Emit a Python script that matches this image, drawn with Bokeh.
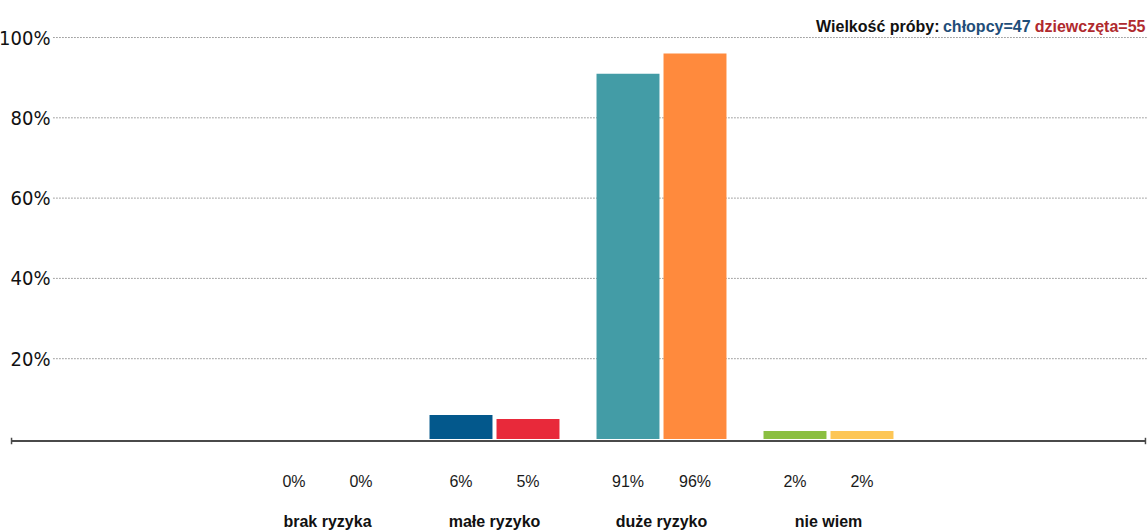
from bokeh.plotting import figure
from bokeh.models import Range1d, ColumnDataSource
from bokeh.core.properties import value
from bokeh.embed import file_html
from bokeh.resources import INLINE

# ---- data ----
categories = ["brak ryzyka", "małe ryzyko", "duże ryzyko", "nie wiem"]
chlopcy = [0, 6, 91, 2]
dziewczeta = [0, 5, 96, 2]
colors_chlopcy = ["#7f6fa8", "#03588c", "#439ca6", "#8bbf41"]
colors_dziewczeta = ["#c5b3d8", "#e8293a", "#ff8a3d", "#fdc656"]
y_ticks = [20, 40, 60, 80, 100]
y_tick_labels = ["20%", "40%", "60%", "80%", "100%"]
n_chlopcy = 47
n_dziewczeta = 55

# ---- layout constants ----
W, H = 1148, 531
XMIN, XMAX = -1.9581, 4.9162
YMIN, YMAX = -23.04, 109.22
OFF = 0.2006
BW = 0.377

COND = "'DejaVu Sans Condensed', sans-serif"
SANS = "'Liberation Sans', Arial, sans-serif"

p = figure(width=W, height=H, output_backend="svg", toolbar_location=None,
           x_range=Range1d(XMIN, XMAX), y_range=Range1d(YMIN, YMAX),
           x_axis_type=None, y_axis_type=None,
           min_border_left=0, min_border_right=0, min_border_top=0, min_border_bottom=0)
p.outline_line_color = None
p.background_fill_color = "white"
p.border_fill_color = "white"
p.xgrid.visible = False
p.ygrid.visible = False

xs = list(range(len(categories)))
xb = [x - OFF for x in xs]
xg = [x + OFF for x in xs]

# gridlines
p.segment(x0=[-1.641] * len(y_ticks), x1=[XMAX] * len(y_ticks), y0=y_ticks, y1=y_ticks,
          line_color="#555555", line_width=1, line_dash="1 2")
# y tick labels
p.text(x=[-1.6587] * len(y_ticks), y=y_ticks, text=y_tick_labels,
       text_align="right", text_baseline="middle",
       text_font=value(COND), text_font_size="20px", text_color="#111111")

# bars
src_b = ColumnDataSource(dict(x=xb, top=chlopcy, color=colors_chlopcy))
src_g = ColumnDataSource(dict(x=xg, top=dziewczeta, color=colors_dziewczeta))
p.vbar(x="x", top="top", bottom=0, width=BW, fill_color="color", line_color=None, source=src_b)
p.vbar(x="x", top="top", bottom=0, width=BW, fill_color="color", line_color=None, source=src_g)

# baseline axis
p.segment(x0=[-1.892], x1=[4.898], y0=[-0.5], y1=[-0.5], line_color="#4a4a4a", line_width=2)
p.segment(x0=[-1.892, 4.898], x1=[-1.892, 4.898], y0=[-1.3, -1.3], y1=[0.3, 0.3],
          line_color="#4a4a4a", line_width=1.5)

# value labels
p.text(x=xb + xg, y=[-10.6] * (2 * len(xs)),
       text=[f"{v}%" for v in chlopcy] + [f"{v}%" for v in dziewczeta],
       text_align="center", text_baseline="middle",
       text_font=value(SANS), text_font_size="16px", text_color="#1a1a1a")

# category labels
p.text(x=xs, y=[-20.6] * len(xs), text=categories,
       text_align="center", text_baseline="alphabetic",
       text_font=value(SANS), text_font_size="16px", text_font_style="bold",
       text_color="#111111")

# sample-size title (right-aligned pieces)
ty = 102.74
p.text(x=[3.665], y=[ty], text=["Wielkość próby:"], text_align="right", text_baseline="alphabetic",
       text_font=value(SANS), text_font_size="16px", text_font_style="bold", text_color="#111111")
p.text(x=[4.210], y=[ty], text=[f"chłopcy={n_chlopcy}"], text_align="right", text_baseline="alphabetic",
       text_font=value(SANS), text_font_size="16px", text_font_style="bold", text_color="#1f4e79")
p.text(x=[4.898], y=[ty], text=[f"dziewczęta={n_dziewczeta}"], text_align="right", text_baseline="alphabetic",
       text_font=value(SANS), text_font_size="16px", text_font_style="bold", text_color="#b02a2e")

open("out.html", "w").write(file_html(p, INLINE))
